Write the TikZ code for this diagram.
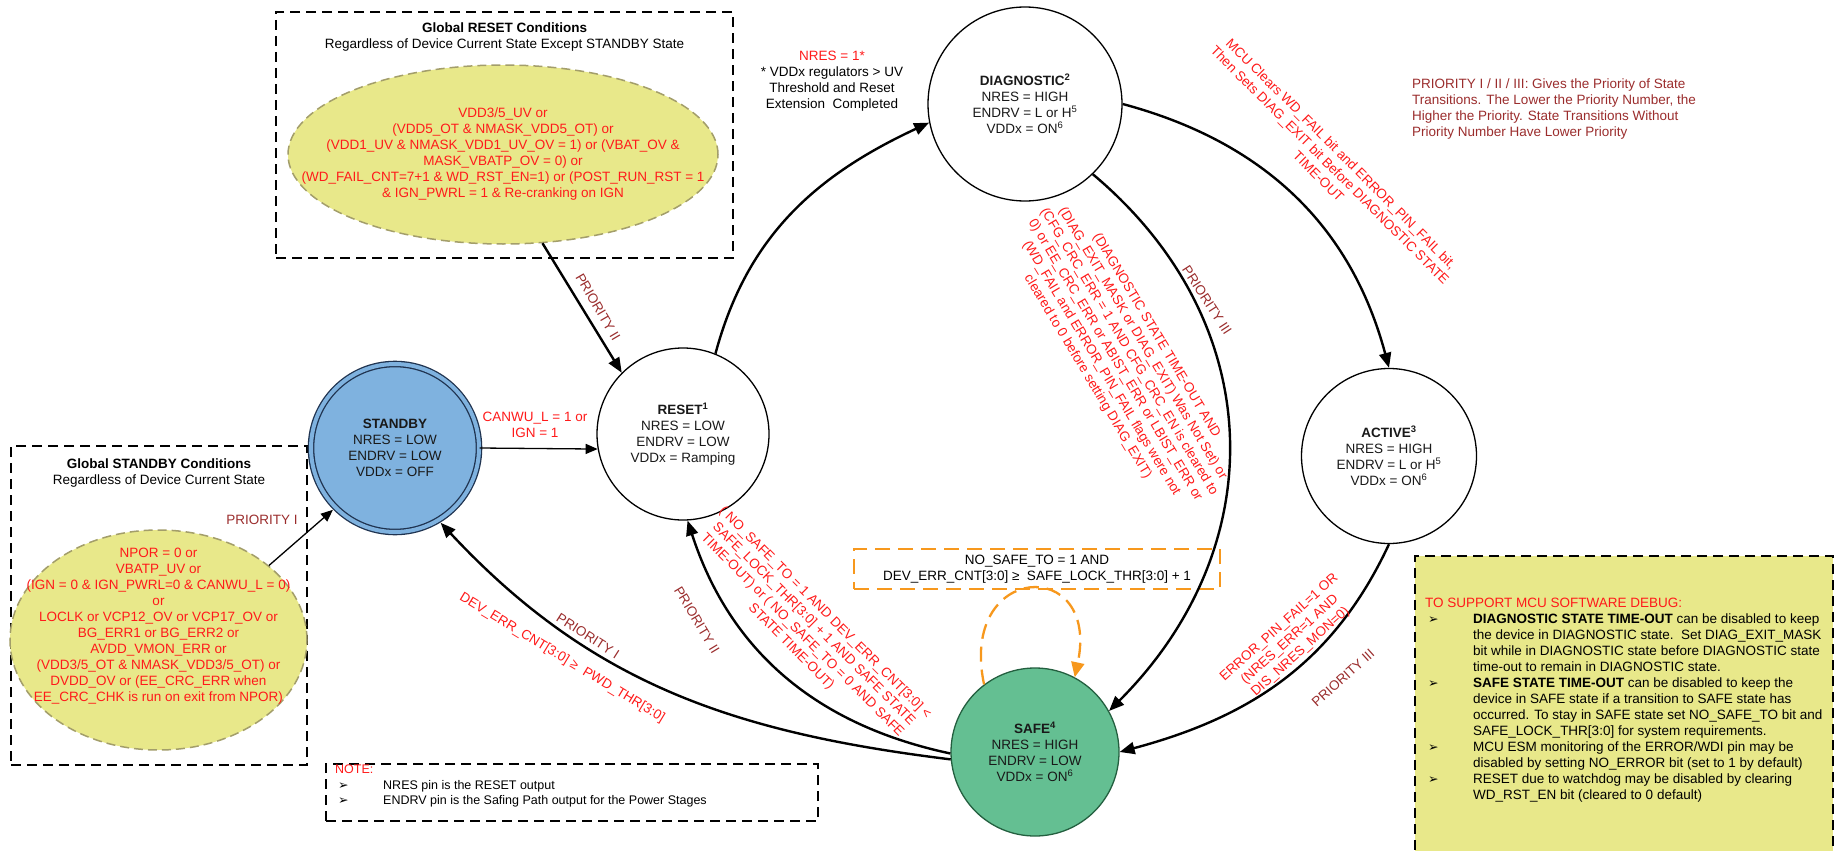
\documentclass[tikz,border=0pt]{standalone}
\usepackage{fontspec}
\setmainfont{Liberation Sans}
\newfontfamily\symfont{DejaVu Sans}
\usetikzlibrary{arrows.meta,shapes.geometric,positioning}
\definecolor{redtxt}{HTML}{FF1A1A}
\definecolor{prio}{HTML}{9B2D2D}
\definecolor{stbyblue}{HTML}{7FB2DF}
\definecolor{stbyedge}{HTML}{1F3350}
\definecolor{condyel}{HTML}{E8E88A}
\definecolor{condedge}{HTML}{A39E6A}
\definecolor{safegreen}{HTML}{64BF92}
\definecolor{safeedge}{HTML}{235F3F}
\definecolor{lockorange}{HTML}{F7981D}
\newcommand{\dfont}{\fontsize{13.5pt}{16pt}\selectfont}
\newcommand{\nfont}{\fontsize{12.5pt}{15.5pt}\selectfont}
\newcommand{\bul}{\hspace*{3pt}\makebox[45pt][l]{\symfont\fontsize{12.5pt}{12pt}\selectfont ➢}}
\newcommand{\ind}{\hspace*{48pt}}

\begin{document}
\begin{tikzpicture}[x=1pt, y=1pt, font=\dfont, >={Triangle[length=15pt,width=12pt]},
  state/.style={circle, draw=black, line width=1.3pt, align=center, inner sep=0pt, text=black!90},
  trans/.style={->, line width=2.4pt},
  thinarr/.style={-{Triangle[length=12pt,width=10pt]}, line width=1.3pt},
  dashbox/.style={draw, line width=2pt, dash pattern=on 10pt off 6pt, inner sep=0pt},
  cond/.style={ellipse, fill=condyel, draw=condedge, line width=1.5pt, dash pattern=on 9pt off 5pt, inner sep=0pt},
  redlbl/.style={text=redtxt, align=center, inner sep=0pt},
  priolbl/.style={text=prio, inner sep=0pt}]
  \path[use as bounding box, fill=white] (0,0) rectangle (1837,-851);

  \node[dashbox, minimum width=457pt, minimum height=246pt] (rstbox) at (504.5,-135) {};
  \node[align=center, inner sep=0pt] (rsttitle) at (504.5,-37.5) {\textbf{Global RESET Conditions}\\Regardless of Device Current State Except STANDBY State};
  \node[cond, minimum width=430pt, minimum height=179pt] (rstell) at (503,-154.5) {};
  \node[redlbl] (rsttxt) at (503,-154) {VDD3/5\_UV or\\(VDD5\_OT \& NMASK\_VDD5\_OT) or\\(VDD1\_UV \& NMASK\_VDD1\_UV\_OV = 1) or (VBAT\_OV \&\\MASK\_VBATP\_OV = 0) or\\(WD\_FAIL\_CNT=7+1 \& WD\_RST\_EN=1) or (POST\_RUN\_RST = 1\\\& IGN\_PWRL = 1 \& Re-cranking on IGN};

  \node[dashbox, minimum width=296pt, minimum height=319pt] (stbybox) at (159,-605.5) {};
  \node[align=center, inner sep=0pt] (stbytitle) at (159,-473) {\textbf{Global STANDBY Conditions}\\Regardless of Device Current State};
  \node[cond, minimum width=297pt, minimum height=220pt] (stbyell) at (158.5,-640) {};
  \node[redlbl] (stbytxt) at (158.5,-626.5) {NPOR = 0 or\\VBATP\_UV or\\(IGN = 0 \& IGN\_PWRL=0 \& CANWU\_L = 0)\\or\\LOCLK or VCP12\_OV or VCP17\_OV or\\BG\_ERR1 or BG\_ERR2 or\\AVDD\_VMON\_ERR or\\(VDD3/5\_OT \& NMASK\_VDD3/5\_OT) or\\DVDD\_OV or (EE\_CRC\_ERR when\\EE\_CRC\_CHK is run on exit from NPOR)};

  \node[state, minimum size=168pt, fill=stbyblue, draw=stbyedge, double=stbyblue, double distance=4pt] (standby) at (395,-448) {\textbf{STANDBY}\\NRES = LOW\\ENDRV = LOW\\VDDx = OFF};
  \node[state, minimum size=172pt] (reset) at (683,-434) {\textbf{RESET}\textsuperscript{\textbf{1}}\\NRES = LOW\\ENDRV = LOW\\VDDx = Ramping};
  \node[state, minimum size=194pt] (diag) at (1025,-104) {\textbf{DIAGNOSTIC}\textsuperscript{\textbf{2}}\\NRES = HIGH\\ENDRV = L or H\textsuperscript{5}\\VDDx = ON\textsuperscript{6}};
  \node[state, minimum size=175pt] (active) at (1389,-456) {\textbf{ACTIVE}\textsuperscript{\textbf{3}}\\NRES = HIGH\\ENDRV = L or H\textsuperscript{5}\\VDDx = ON\textsuperscript{6}};
  \node[state, minimum size=168pt, fill=safegreen, draw=safeedge] (safe) at (1035,-752) {\textbf{SAFE}\textsuperscript{\textbf{4}}\\NRES = HIGH\\ENDRV = LOW\\VDDx = ON\textsuperscript{6}};

  \node[draw=lockorange, line width=2.3pt, dash pattern=on 15pt off 8pt, minimum width=366pt, minimum height=40pt, align=center, inner sep=0pt] (lockbox) at (1037,-569) {NO\_SAFE\_TO = 1 AND\\DEV\_ERR\_CNT[3:0] ≥\ \ SAFE\_LOCK\_THR[3:0] + 1};

  \draw[thinarr] (standby.east) -- (reset.190);
  \draw[trans] (rstell.-66) -- (reset.135);
  \draw[thinarr, shorten >=3pt] (stbyell.34) -- (standby.225);
  \draw[trans] (reset.68) to[out=75, in=205] (diag.191);
  \draw[trans] (diag.east) to[out=-15, in=105] (active.north);
  \draw[trans] (diag.-46) to[out=-40, in=45, looseness=1.1] (safe.29);
  \draw[trans] (active.south) to[out=-115, in=15] (safe.east);
  \draw[trans] (safe.181) to[out=168, in=-72] (reset.-87);
  \draw[trans, shorten >=3pt] (safe.185) to[out=173, in=-47] (standby.-59);
  \draw[lockorange, line width=2.3pt, dash pattern=on 15pt off 8pt, -{Triangle[length=15pt,width=13pt]}] (safe.127) .. controls +(102:125) and +(78:125) .. (safe.62);

  \node[redlbl] (wakelbl) at (535,-425) {CANWU\_L = 1 or\\IGN = 1};
  \node[priolbl] (prio1a) at (262,-520) {PRIORITY I};
  \node[priolbl, rotate=-59.6] (prio2a) at (598,-307) {PRIORITY II};
  \node[align=center, inner sep=0pt] (nreslbl) at (832,-81) {\textcolor{redtxt}{NRES = 1*}\\{}* VDDx regulators > UV\\Threshold and Reset\\Extension\ \ Completed};
  \node[redlbl, rotate=-45] (mcutxt) at (1330,-165) {MCU Clears WD\_FAIL bit and ERROR\_PIN\_FAIL bit,\\Then Sets DIAG\_EXIT bit Before DIAGNOSTIC STATE\\TIME-OUT};
  \node[priolbl, align=left, anchor=west] (legend) at (1412,-109.5) {PRIORITY I / II / III: Gives the Priority of State\\Transitions. The Lower the Priority Number, the\\Higher the Priority. State Transitions Without\\Priority Number Have Lower Priority};
  \node[priolbl, rotate=-57] (prio3a) at (1207,-300) {PRIORITY III};
  \node[redlbl, rotate=-59] (diagexit) at (1122,-356) {(DIAGNOSTIC STATE TIME-OUT AND\\(DIAG\_EXIT\_MASK or DIAG\_EXIT) Was Not Set) or\\(CFG\_CRC\_ERR = 1 AND CFG\_CRC\_EN is cleared to\\0) or EE\_CRC\_ERR or ABIST\_ERR or LBIST\_ERR or\\(WD\_FAIL and ERROR\_PIN\_FAIL flags were not\\cleared to 0 before setting DIAG\_EXIT)};
  \node[redlbl, rotate=42] (errpin) at (1290,-640) {ERROR\_PIN\_FAIL=1 OR\\(NRES\_ERR=1 AND\\DIS\_NRES\_MON=0)};
  \node[priolbl, rotate=42] (prio3b) at (1343,-678) {PRIORITY III};
  \node[priolbl, rotate=-59] (prio2b) at (697,-620) {PRIORITY II};
  \node[redlbl, rotate=-45] (safeto) at (808,-630) {( NO\_SAFE\_TO = 1 AND DEV\_ERR\_CNT[3:0] <\\SAFE\_LOCK\_THR[3:0] + 1 AND SAFE STATE\\TIME-OUT) or ( NO\_SAFE\_TO = 0 AND SAFE\\STATE TIME-OUT)};
  \node[priolbl, rotate=-32.6] (prio1b) at (588,-636) {PRIORITY I};
  \node[redlbl, rotate=-31.2] (pwdlbl) at (562,-658) {DEV\_ERR\_CNT[3:0] ≥\ \ PWD\_THR[3:0]};

  \node[dashbox, minimum width=492pt, minimum height=57pt, anchor=north west] (notebox) at (325,-763) {};
  \node[anchor=north west, align=left, inner sep=0pt, font=\nfont] (notetxt) at (335,-765) {\textcolor{redtxt}{NOTE:}\\\bul NRES pin is the RESET output\\\bul ENDRV pin is the Safing Path output for the Power Stages};

  \node[dashbox, fill=condyel, minimum width=418pt, minimum height=320pt, anchor=north west] (debugbox) at (1414,-555) {};
  \node[anchor=north west, align=left, inner sep=0pt] (debugtxt) at (1425,-598) {\textcolor{redtxt}{TO SUPPORT MCU SOFTWARE DEBUG:}\\
    \bul\textbf{DIAGNOSTIC STATE TIME-OUT} can be disabled to keep\\
    \ind the device in DIAGNOSTIC state.\ \ Set DIAG\_EXIT\_MASK\\
    \ind bit while in DIAGNOSTIC state before DIAGNOSTIC state\\
    \ind time-out to remain in DIAGNOSTIC state.\\
    \bul\textbf{SAFE STATE TIME-OUT} can be disabled to keep the\\
    \ind device in SAFE state if a transition to SAFE state has\\
    \ind occurred. To stay in SAFE state set NO\_SAFE\_TO bit and\\
    \ind SAFE\_LOCK\_THR[3:0] for system requirements.\\
    \bul MCU ESM monitoring of the ERROR/WDI pin may be\\
    \ind disabled by setting NO\_ERROR bit (set to 1 by default)\\
    \bul RESET due to watchdog may be disabled by clearing\\
    \ind WD\_RST\_EN bit (cleared to 0 default)};
\end{tikzpicture}
\end{document}
